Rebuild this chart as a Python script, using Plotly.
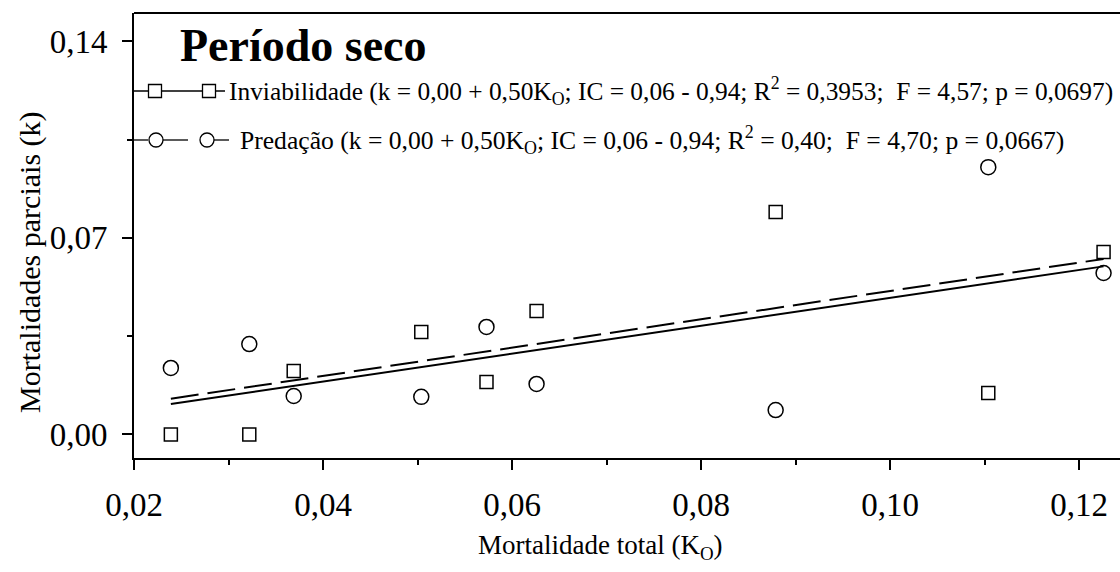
import numpy as np
import plotly.graph_objects as go

# Mortalidade total (K_O) por coorte e mortalidades parciais (k) - período seco
k_total = [0.0239, 0.0322, 0.0369, 0.0504, 0.0573, 0.0626, 0.0879, 0.1104, 0.1226]
k_inviabilidade = [0.0, 0.0, 0.0226, 0.0365, 0.0187, 0.0440, 0.0792, 0.0148, 0.0650]
k_predacao = [0.0237, 0.0322, 0.0137, 0.0134, 0.0383, 0.0180, 0.0087, 0.0952, 0.0575]

titulo = "<b>Período seco</b>"
rotulo_inv = ("Inviabilidade (k = 0,00 + 0,50K<sub>O</sub>; IC = 0,06 - 0,94; "
              "R<sup>2</sup> = 0,3953;  F = 4,57; p = 0,0697)")
rotulo_pred = ("Predação (k = 0,00 + 0,50K<sub>O</sub>; IC = 0,06 - 0,94; "
               "R<sup>2</sup> = 0,40;  F = 4,70; p = 0,0667)")
titulo_x = "Mortalidade total (K<sub>O</sub>)"
titulo_y = "Mortalidades parciais (k)"

FONT = "Liberation Serif"
W, H = 1120, 572
L, R, T, B = 134, 0, 13, 114
PW, PH = W - L - R, H - T - B


def px(x):
    return (x - L) / PW


def py(y):
    return (H - B - y) / PH


x_arr = np.array(k_total)
x_fit = np.array([x_arr.min(), x_arr.max()])
fit_inv = np.polyval(np.polyfit(x_arr, k_inviabilidade, 1), x_fit)
fit_pred = np.polyval(np.polyfit(x_arr, k_predacao, 1), x_fit)

fig = go.Figure()
fig.add_trace(go.Scatter(x=x_fit, y=fit_inv, mode="lines",
                         line=dict(color="black", width=2), showlegend=False))
fig.add_trace(go.Scatter(x=x_fit, y=fit_pred, mode="lines",
                         line=dict(color="black", width=2, dash="28px,9px"),
                         showlegend=False))
fig.add_trace(go.Scatter(x=k_total, y=k_inviabilidade, mode="markers",
                         marker=dict(symbol="square-open", size=13, color="black",
                                     line=dict(width=1.5)),
                         showlegend=False))
fig.add_trace(go.Scatter(x=k_total, y=k_predacao, mode="markers",
                         marker=dict(symbol="circle-open", size=15, color="black",
                                     line=dict(width=1.5)),
                         showlegend=False))

shapes = []
# moldura superior
shapes.append(dict(type="line", xref="paper", yref="paper", x0=0, x1=1, y0=1, y1=1,
                   line=dict(color="black", width=2)))

# legenda desenhada à mão: linha com símbolo nas duas pontas
row1, row2 = 91, 140
shapes.append(dict(type="line", xref="paper", yref="paper",
                   x0=px(134), x1=px(225), y0=py(row1), y1=py(row1),
                   line=dict(color="black", width=1.3)))
for cx in (155, 209):
    shapes.append(dict(type="rect", xref="paper", yref="paper",
                       x0=px(cx - 6.5), x1=px(cx + 6.5),
                       y0=py(row1 + 6.5), y1=py(row1 - 6.5),
                       line=dict(color="black", width=1.3), fillcolor="white"))
for a, b in ((134, 148), (163, 188), (214, 229)):
    shapes.append(dict(type="line", xref="paper", yref="paper",
                       x0=px(a), x1=px(b), y0=py(row2), y1=py(row2),
                       line=dict(color="black", width=1.3)))
for cx in (156, 207):
    shapes.append(dict(type="circle", xref="paper", yref="paper",
                       x0=px(cx - 7), x1=px(cx + 7),
                       y0=py(row2 + 7), y1=py(row2 - 7),
                       line=dict(color="black", width=1.3), fillcolor="white"))

annotations = [
    dict(text=titulo, xref="paper", yref="paper", x=px(178), y=py(45),
         xanchor="left", yanchor="middle", showarrow=False,
         font=dict(family=FONT, size=46, color="black")),
    dict(text=rotulo_inv, xref="paper", yref="paper", x=px(227), y=py(row1),
         xanchor="left", yanchor="middle", showarrow=False,
         font=dict(family=FONT, size=25.4, color="black")),
    dict(text=rotulo_pred, xref="paper", yref="paper", x=px(238), y=py(row2),
         xanchor="left", yanchor="middle", showarrow=False,
         font=dict(family=FONT, size=25.6, color="black")),
    dict(text=titulo_x, xref="paper", yref="paper", x=px(600), y=py(547),
         xanchor="center", yanchor="middle", showarrow=False,
         font=dict(family=FONT, size=27, color="black")),
    dict(text=titulo_y, xref="paper", yref="paper", x=px(30), y=py(262),
         xanchor="center", yanchor="middle", showarrow=False, textangle=-90,
         font=dict(family=FONT, size=30, color="black")),
]

fig.update_layout(
    width=W, height=H,
    margin=dict(l=L, r=R, t=T, b=B),
    paper_bgcolor="white", plot_bgcolor="white",
    separators=",.",
    shapes=shapes, annotations=annotations,
    xaxis=dict(range=[0.02, 0.02 + PW / 9450], tickmode="linear", tick0=0.02, dtick=0.02,
               tickformat=".2f", ticks="outside", ticklen=10, tickwidth=2,
               tickcolor="black", showline=True, linewidth=2, linecolor="black",
               showgrid=False, zeroline=False, ticklabelstandoff=6,
               tickfont=dict(family=FONT, size=33, color="black"),
               minor=dict(ticks="outside", tick0=0.01, dtick=0.02, ticklen=5,
                          tickwidth=1.5, tickcolor="black", showgrid=False)),
    yaxis=dict(range=[-0.00837, 0.15008], tickmode="linear", tick0=0, dtick=0.07,
               tickformat=".2f", ticks="outside", ticklen=10, tickwidth=2,
               tickcolor="black", showline=True, linewidth=2, linecolor="black",
               showgrid=False, zeroline=False, ticklabelstandoff=8,
               tickfont=dict(family=FONT, size=33, color="black"),
               minor=dict(ticks="outside", tick0=0.035, dtick=0.07, ticklen=5,
                          tickwidth=1.5, tickcolor="black", showgrid=False)),
)

fig.write_html("out.html")
